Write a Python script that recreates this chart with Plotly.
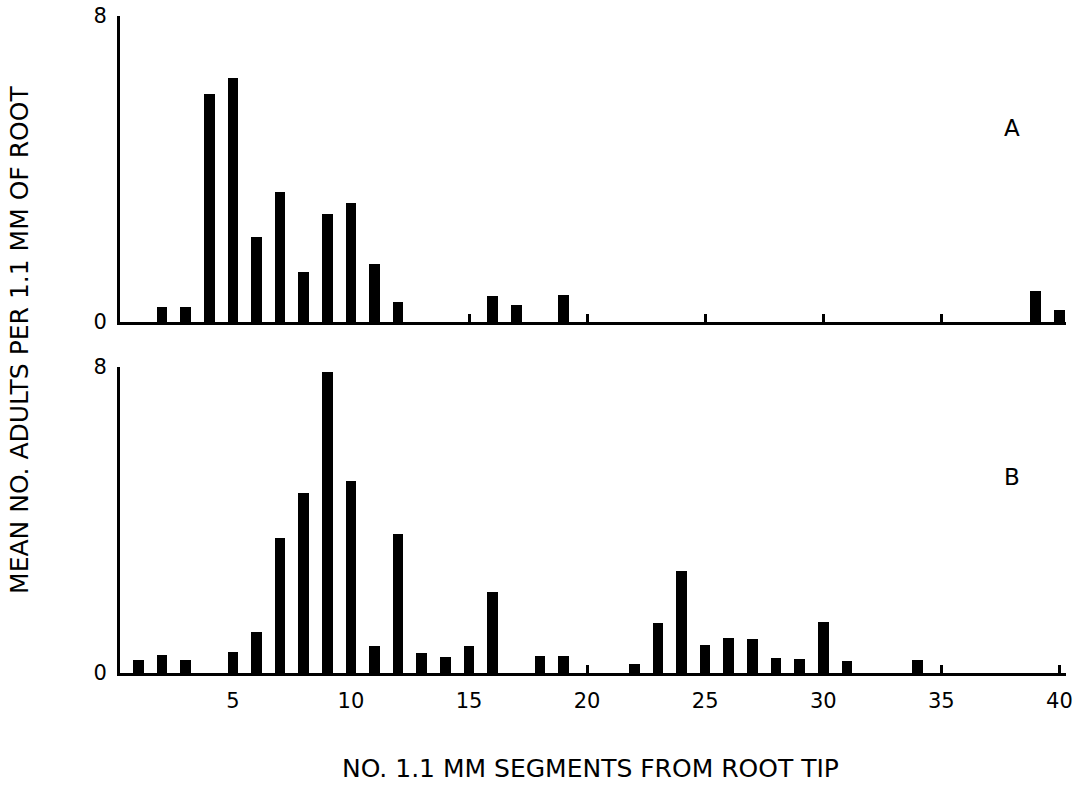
import plotly.graph_objects as go
from plotly.subplots import make_subplots

# Panel A data (segment number -> mean adults per 1.1 mm of root)
segments_a = [2, 3, 4, 5, 6, 7, 8, 9, 10, 11, 12, 16, 17, 19, 39, 40]
values_a = [0.40, 0.40, 5.95, 6.39, 2.21, 3.41, 1.30, 2.82, 3.10, 1.52, 0.53,
            0.68, 0.44, 0.70, 0.81, 0.31]

# Panel B data
segments_b = [1, 2, 3, 5, 6, 7, 8, 9, 10, 11, 12, 13, 14, 15, 16, 18, 19,
              22, 23, 24, 25, 26, 27, 28, 29, 30, 31, 34]
values_b = [0.35, 0.48, 0.35, 0.54, 1.06, 3.52, 4.70, 7.87, 5.03, 0.70, 3.64,
            0.52, 0.42, 0.70, 2.11, 0.45, 0.45,
            0.23, 1.30, 2.66, 0.73, 0.92, 0.90, 0.38, 0.37, 1.34, 0.31, 0.34]

x_ticks = [5, 10, 15, 20, 25, 30, 35, 40]
y_ticks = [0, 8]
panel_labels = ["A", "B"]

FONT = "DejaVu Sans"
BAR_W = 0.45

fig = make_subplots(rows=2, cols=1, shared_xaxes=False, vertical_spacing=0.0)

fig.add_trace(go.Bar(x=segments_a, y=values_a, width=BAR_W,
                     marker=dict(color="black", line=dict(width=0)),
                     showlegend=False), row=1, col=1)
fig.add_trace(go.Bar(x=segments_b, y=values_b, width=BAR_W,
                     marker=dict(color="black", line=dict(width=0)),
                     showlegend=False), row=2, col=1)

xrange = [0.22, 40.28]
common_x = dict(range=xrange, showline=True, linewidth=3, linecolor="black",
                ticks="inside", ticklen=8, tickwidth=3, tickcolor="black",
                tickvals=x_ticks, showgrid=False, zeroline=False, automargin=False,
                tickfont=dict(family=FONT, size=21, color="black"))
common_y = dict(range=[0, 8], showline=True, linewidth=3, linecolor="black",
                ticks="inside", ticklen=6, tickwidth=3, tickcolor="black",
                tickvals=y_ticks, ticktext=[str(v) for v in y_ticks],
                showgrid=False, zeroline=False, ticklabelstandoff=6, automargin=False,
                ticklabeloverflow="allow",
                tickfont=dict(family=FONT, size=21, color="black"))

fig.update_layout(
    xaxis=dict(**common_x, showticklabels=False, anchor="y"),
    xaxis2=dict(**common_x, showticklabels=True, ticktext=[str(v) for v in x_ticks],
                ticklabelstandoff=7, anchor="y2"),
    yaxis=dict(**common_y, domain=[0.5342, 1.0], anchor="x"),
    yaxis2=dict(**common_y, domain=[0.0, 0.4658], anchor="x2"),
)

fig.update_layout(
    width=1086, height=785,
    margin=dict(l=120, r=20, t=16, b=112),
    paper_bgcolor="white", plot_bgcolor="white",
    bargap=0,
    font=dict(family=FONT, color="black"),
    annotations=[
        dict(text="MEAN NO. ADULTS PER 1.1 MM OF ROOT", xref="paper", yref="paper",
             x=-0.1057, y=0.507, xanchor="center", yanchor="middle",
             textangle=-90, showarrow=False,
             font=dict(family=FONT, size=25, color="black")),
        dict(text="NO. 1.1 MM SEGMENTS FROM ROOT TIP", xref="paper", yref="paper",
             x=0.497, y=-0.1446, xanchor="center", yanchor="middle",
             showarrow=False, font=dict(family=FONT, size=25, color="black")),
        dict(text=panel_labels[0], xref="paper", yref="paper", x=0.943, y=0.8295,
             xanchor="center", yanchor="middle", showarrow=False,
             font=dict(family=FONT, size=23, color="black")),
        dict(text=panel_labels[1], xref="paper", yref="paper", x=0.943, y=0.2983,
             xanchor="center", yanchor="middle", showarrow=False,
             font=dict(family=FONT, size=23, color="black")),
    ],
)

fig.write_html("out.html",
               config={"displayModeBar": False},
               post_script="document.body.style.margin='0';document.body.style.overflow='hidden';")
